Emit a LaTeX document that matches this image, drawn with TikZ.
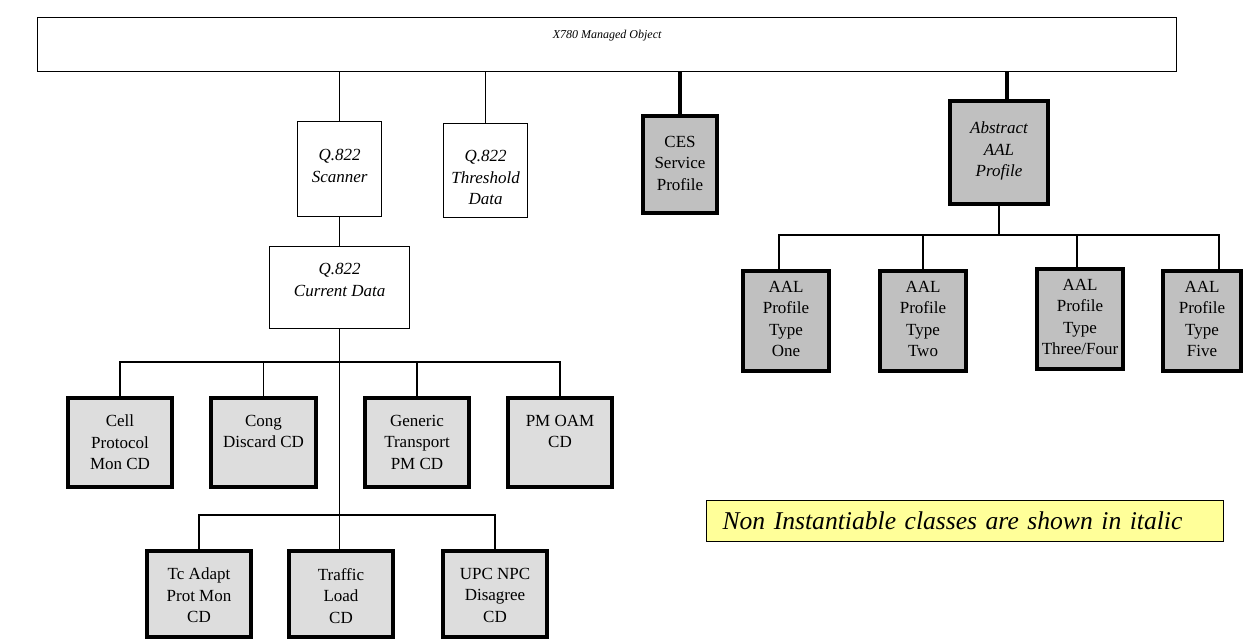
\documentclass[tikz,border=0pt]{standalone}
\usepackage{fontspec}
\setmainfont{Liberation Serif}
\usetikzlibrary{positioning}
\definecolor{Shade}{RGB}{192,192,192}
\definecolor{Pale}{RGB}{221,221,221}
\definecolor{Memo}{RGB}{255,255,153}

\begin{document}
\begin{tikzpicture}[x=1pt, y=-1pt,
    wbox/.style={draw, line width=1.3pt, fill=white, anchor=north west, inner sep=0pt},
    gbox/.style={draw, line width=4pt, fill=Shade, anchor=north west, inner sep=0pt},
    pbox/.style={draw, line width=4pt, fill=Pale, anchor=north west, inner sep=0pt},
    words/.style={font=\fontsize{17}{21.5}\selectfont, align=center, inner sep=0pt, anchor=north},
    link/.style={line width=1.5pt},
    heavy/.style={line width=4pt}]
    %% Background
    \useasboundingbox (0,0) rectangle (1243,639);

    %% Root
    \node[wbox, minimum width=1139pt, minimum height=54pt] (top) at (37,17) {};
    \node[words, font=\fontsize{12}{14}\selectfont\itshape, below=13pt of top.north] (top-t) {X780 Managed Object};

    %% Q.822 branch
    \node[wbox, minimum width=84pt, minimum height=95pt] (scanner) at (297,121) {};
    \node[words, font=\fontsize{17}{21.5}\selectfont\itshape, below=28pt of scanner.north] (scanner-t) {Q.822\\Scanner};
    \node[wbox, minimum width=84pt, minimum height=94pt] (thresh) at (443,123) {};
    \node[words, font=\fontsize{17}{21.5}\selectfont\itshape, below=27pt of thresh.north] (thresh-t) {Q.822\\Threshold\\Data};
    \node[wbox, minimum width=140pt, minimum height=82pt] (curdata) at (269,246) {};
    \node[words, font=\fontsize{17}{21.5}\selectfont\itshape, below=17pt of curdata.north] (curdata-t) {Q.822\\Current Data};

    %% Current data classes
    \node[pbox, minimum width=104pt, minimum height=89pt] (cell) at (66,396) {};
    \node[words, below=19pt of cell.north] (cell-t) {Cell\\Protocol\\Mon CD};
    \node[pbox, minimum width=105pt, minimum height=89pt] (cong) at (209,396) {};
    \node[words, below=19pt of cong.north] (cong-t) {Cong\\Discard CD};
    \node[pbox, minimum width=104pt, minimum height=89pt] (generic) at (363,396) {};
    \node[words, below=19pt of generic.north] (generic-t) {Generic\\Transport\\PM CD};
    \node[pbox, minimum width=104pt, minimum height=89pt] (pmoam) at (506,396) {};
    \node[words, below=19pt of pmoam.north] (pmoam-t) {PM OAM\\CD};

    \node[pbox, minimum width=104pt, minimum height=86pt] (tcadapt) at (145,549) {};
    \node[words, below=19pt of tcadapt.north] (tcadapt-t) {Tc Adapt\\Prot Mon\\CD};
    \node[pbox, minimum width=104pt, minimum height=86pt] (traffic) at (287,549) {};
    \node[words, below=19pt of traffic.north] (traffic-t) {Traffic\\Load\\CD};
    \node[pbox, minimum width=104pt, minimum height=86pt] (upc) at (441,549) {};
    \node[words, below=19pt of upc.north] (upc-t) {UPC NPC\\Disagree\\CD};

    %% Profiles
    \node[gbox, minimum width=74pt, minimum height=97pt] (ces) at (641,114) {};
    \node[words, below=22pt of ces.north] (ces-t) {CES\\Service\\Profile};
    \node[gbox, minimum width=98pt, minimum height=103pt] (abs) at (948,99) {};
    \node[words, font=\fontsize{17}{21.5}\selectfont\itshape, below=23pt of abs.north] (abs-t) {Abstract\\AAL\\Profile};

    \node[gbox, minimum width=86pt, minimum height=100pt] (one) at (741,269) {};
    \node[words, below=12pt of one.north] (one-t) {AAL\\Profile\\Type\\One};
    \node[gbox, minimum width=86pt, minimum height=100pt] (two) at (878,269) {};
    \node[words, below=12pt of two.north] (two-t) {AAL\\Profile\\Type\\Two};
    \node[gbox, minimum width=86pt, minimum height=100pt] (three) at (1035,267) {};
    \node[words, below=12pt of three.north] (three-t) {AAL\\Profile\\Type\\Three/Four};
    \node[gbox, minimum width=78pt, minimum height=100pt] (five) at (1161,269) {};
    \node[words, below=12pt of five.north] (five-t) {AAL\\Profile\\Type\\Five};

    %% Note
    \node[draw, line width=1.2pt, fill=Memo, anchor=north west, minimum height=41pt,
          text width=485pt, inner xsep=16pt, align=left,
          font=\fontsize{25.6}{30}\selectfont\itshape] (memo) at (706,500)
          {Non Instantiable classes are shown in italic};

    %% Links
    \coordinate (rowone) at (339,362);
    \coordinate (rowtwo) at (339,515);
    \coordinate (aalbar) at (1000,235);

    \draw[link] (scanner.north) -- (scanner.north |- top.south);
    \draw[link] (thresh.north) -- (thresh.north |- top.south);
    \draw[heavy] (ces.north) -- (ces.north |- top.south);
    \draw[heavy] ([xshift=8pt]abs.north) -- ([xshift=8pt]abs.north |- top.south);

    \draw[link] (scanner.south) -- (scanner.south |- curdata.north);
    \draw[link] (curdata.south) -- (curdata.south |- traffic.north);
    \draw[link] (cell.north) |- (rowone) -| (pmoam.north);
    \draw[link] (cong.north) -- (cong.north |- rowone);
    \draw[link] (generic.north) -- (generic.north |- rowone);
    \draw[link] (tcadapt.north) |- (rowtwo) -| (upc.north);

    \draw[link] (abs.south) -- (abs.south |- aalbar);
    \draw[link] ([xshift=-7pt]one.north) |- (aalbar) -| ([xshift=17pt]five.north);
    \draw[link] (two.north) -- (two.north |- aalbar);
    \draw[link] ([xshift=-3pt]three.north) -- ([xshift=-3pt]three.north |- aalbar);
\end{tikzpicture}
\end{document}
